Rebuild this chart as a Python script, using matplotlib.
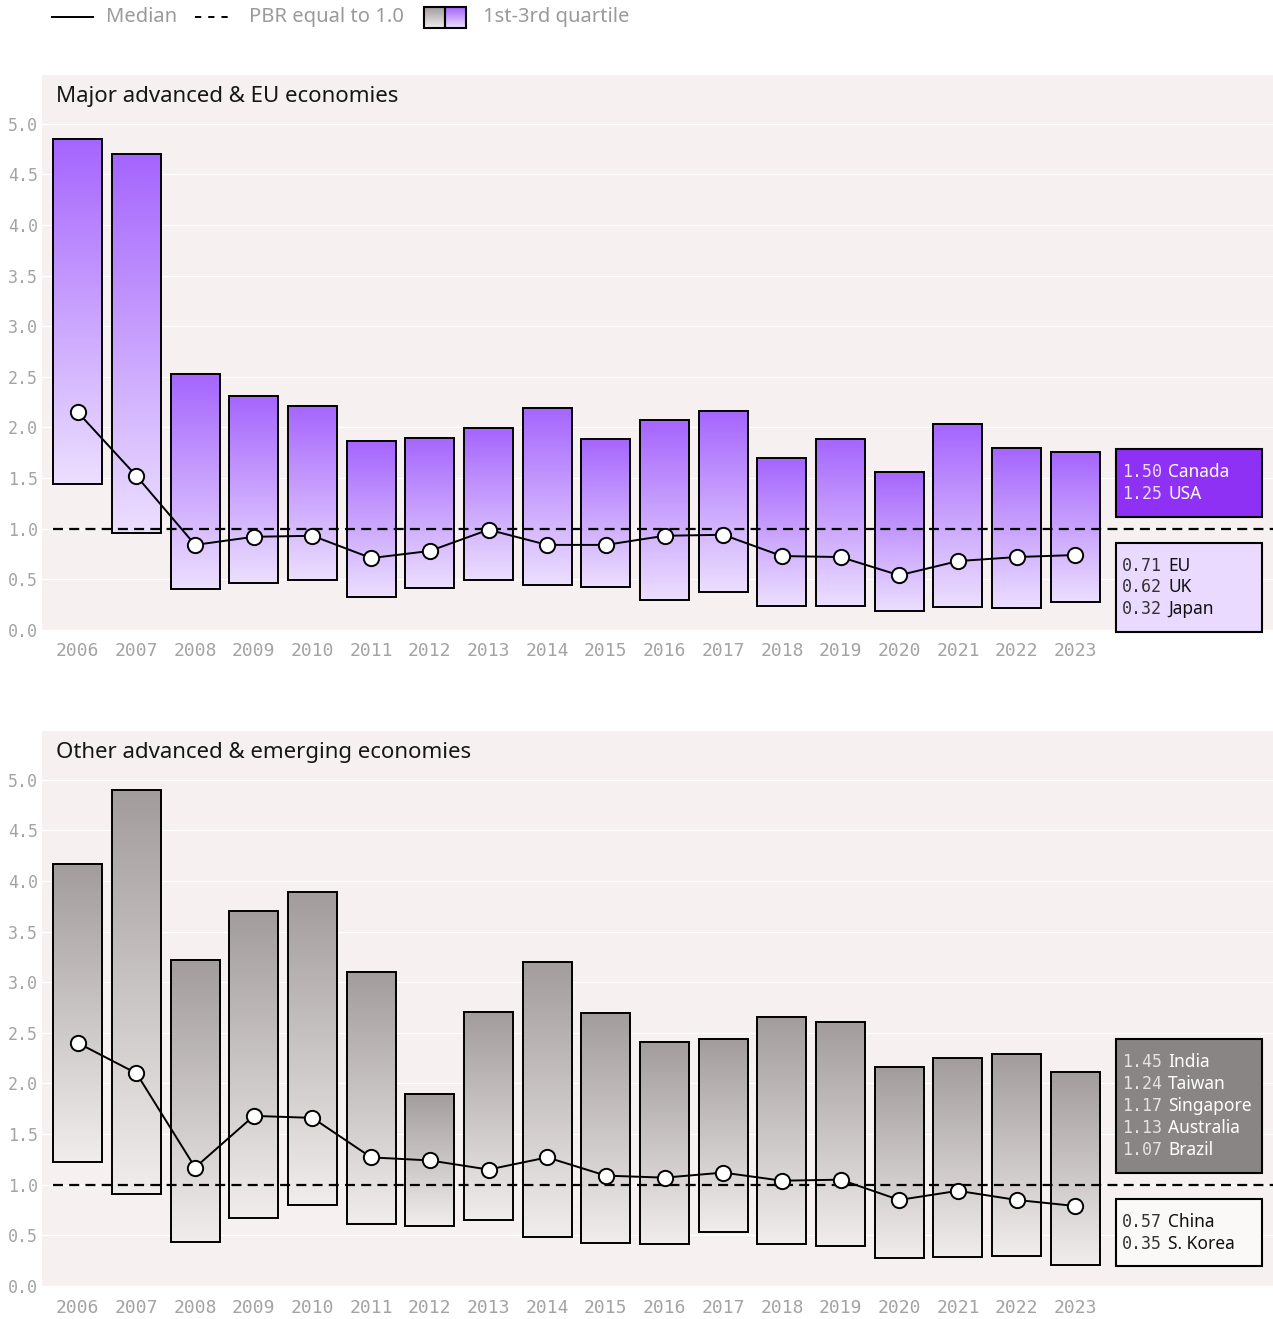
import numpy as np
import matplotlib.pyplot as plt
from matplotlib.patches import Rectangle
from matplotlib.lines import Line2D
from matplotlib.colors import LinearSegmentedColormap

# ---- data ----
years = list(range(2006, 2024))

major_q1 = [1.44, 0.96, 0.40, 0.46, 0.49, 0.33, 0.41, 0.49, 0.44, 0.42,
            0.30, 0.37, 0.24, 0.24, 0.19, 0.23, 0.22, 0.28]
major_q3 = [4.85, 4.70, 2.53, 2.31, 2.21, 1.87, 1.90, 1.99, 2.19, 1.89,
            2.07, 2.16, 1.70, 1.89, 1.56, 2.03, 1.80, 1.76]
major_median = [2.15, 1.52, 0.84, 0.92, 0.93, 0.71, 0.78, 0.99, 0.84, 0.84,
                0.93, 0.94, 0.73, 0.72, 0.54, 0.68, 0.72, 0.74]

other_q1 = [1.22, 0.91, 0.43, 0.67, 0.80, 0.61, 0.59, 0.65, 0.48, 0.42,
            0.41, 0.53, 0.41, 0.40, 0.28, 0.29, 0.30, 0.21]
other_q3 = [4.17, 4.90, 3.22, 3.70, 3.89, 3.10, 1.90, 2.71, 3.20, 2.70,
            2.41, 2.44, 2.66, 2.61, 2.16, 2.25, 2.29, 2.11]
other_median = [2.40, 2.10, 1.17, 1.68, 1.66, 1.27, 1.24, 1.15, 1.27, 1.09,
                1.07, 1.12, 1.04, 1.05, 0.85, 0.94, 0.85, 0.79]

major_above_vals = [1.50, 1.25]
major_above_names = ["Canada", "USA"]
major_below_vals = [0.71, 0.62, 0.32]
major_below_names = ["EU", "UK", "Japan"]

other_above_vals = [1.45, 1.24, 1.17, 1.13, 1.07]
other_above_names = ["India", "Taiwan", "Singapore", "Australia", "Brazil"]
other_below_vals = [0.57, 0.35]
other_below_names = ["China", "S. Korea"]

# ---- style ----
SANS = ["Noto Sans", "DejaVu Sans"]
MONO = ["DejaVu Sans Mono"]
BG = "#f6f0f0"
TICK = "#a3a3a3"
purple_cmap = LinearSegmentedColormap.from_list("p", ["#ecdfff", "#a565fd"])
gray_cmap = LinearSegmentedColormap.from_list("g", ["#f2eded", "#a29c9c"])
grad = np.linspace(0, 1, 256).reshape(-1, 1)

XMIN, XMAX, YMAX = -0.61, 20.37, 5.48
BAR_W = 0.835
LINE_H = 0.217


def draw_box(ax, vals, names, above, face, numcol, namecol):
    n = len(vals)
    h = n * LINE_H + 0.23
    y0 = 1.12 if above else 0.86 - h
    ax.add_patch(Rectangle((17.70, y0), 2.49, h, facecolor=face,
                           edgecolor="black", lw=1.5, zorder=4, clip_on=False))
    for i, (v, nm) in enumerate(zip(vals, names)):
        yc = y0 + 0.115 + (n - 1 - i + 0.5) * LINE_H
        ax.text(17.80, yc, f"{v:.2f}", family=MONO, fontsize=12,
                color=numcol, va="center", ha="left", zorder=5)
        ax.text(18.585, yc, nm, family=SANS, fontsize=12.5,
                color=namecol, va="center", ha="left", zorder=5)


def panel(ax, q1, q3, med, cmap, title, above, below):
    x = np.arange(len(years))
    ax.set_facecolor(BG)
    for xi, lo, hi in zip(x, q1, q3):
        ax.imshow(grad, extent=(xi - BAR_W / 2, xi + BAR_W / 2, lo, hi),
                  origin="lower", cmap=cmap, aspect="auto", zorder=2)
        ax.add_patch(Rectangle((xi - BAR_W / 2, lo), BAR_W, hi - lo,
                               fill=False, edgecolor="black", lw=1.4, zorder=3))
    ax.plot([-0.43, XMAX], [1, 1], color="black", lw=1.6,
            linestyle=(0, (4.5, 2.8)), zorder=4)
    ax.plot(x, med, color="black", lw=1.4, marker="o", ms=11,
            mfc="white", mec="black", mew=1.4, zorder=6)
    draw_box(ax, *above)
    draw_box(ax, *below)

    ax.set_xlim(XMIN, XMAX)
    ax.set_ylim(0, YMAX)
    ax.set_xticks(x)
    ax.set_xticklabels([str(y) for y in years])
    ax.set_yticks(np.arange(0, 5.01, 0.5))
    ax.set_yticklabels([f"{v:.1f}" for v in np.arange(0, 5.01, 0.5)])
    for lab in ax.get_xticklabels():
        lab.set_family(MONO)
        lab.set_fontsize(13)
        lab.set_color(TICK)
    for lab in ax.get_yticklabels():
        lab.set_family(MONO)
        lab.set_fontsize(12)
        lab.set_color(TICK)
    ax.tick_params(axis="both", length=0)
    ax.tick_params(axis="x", pad=9)
    ax.tick_params(axis="y", pad=3)
    ax.yaxis.grid(True, color="white", lw=1)
    ax.set_axisbelow(True)
    for s in ax.spines.values():
        s.set_visible(False)
    ax.text(0.0114, 0.961, title, transform=ax.transAxes, family=SANS,
            fontsize=16, color="#161616", va="center", ha="left")


fig = plt.figure(figsize=(12.73, 13.19), dpi=100)
ax1 = fig.add_axes([0.033, 0.5224, 0.967, 0.4207])
ax2 = fig.add_axes([0.033, 0.025, 0.967, 0.4208])

panel(ax1, major_q1, major_q3, major_median, purple_cmap,
      "Major advanced & EU economies",
      (major_above_vals, major_above_names, True, "#8f31f5", "#eadcff", "white"),
      (major_below_vals, major_below_names, False, "#ebdaff", "#333333", "#111111"))
panel(ax2, other_q1, other_q3, other_median, gray_cmap,
      "Other advanced & emerging economies",
      (other_above_vals, other_above_names, True, "#8a8585", "#e6e2e2", "white"),
      (other_below_vals, other_below_names, False, "#fbf8f8", "#333333", "#111111"))

# ---- legend along the top, in pixel coordinates ----
lg = fig.add_axes([0, 0, 1, 1])
lg.axis("off")
lg.patch.set_visible(False)
lg.add_line(Line2D([52, 93], [17, 17], color="black", lw=1.4))
lg.text(106, 17, "Median", family=SANS, fontsize=14.5, color="#9a9a9a", va="center")
lg.add_line(Line2D([195, 234], [17, 17], color="black", lw=1.4,
                   linestyle=(0, (3.2, 3.6))))
lg.text(249, 17, "PBR equal to 1.0", family=SANS, fontsize=14.5, color="#9a9a9a", va="center")
for l, r, cm in [(424, 445, gray_cmap), (445, 466, purple_cmap)]:
    lg.imshow(grad, extent=(l, r, 28, 7), origin="lower", cmap=cm, aspect="auto")
    lg.add_patch(Rectangle((l, 7), r - l, 21, fill=False, edgecolor="black", lw=1.5))
lg.text(483, 17, "1st-3rd quartile", family=SANS, fontsize=14.5, color="#9a9a9a", va="center")
lg.set_xlim(0, 1273)
lg.set_ylim(1319, 0)

fig.savefig("out.png", dpi=100, facecolor="white")
